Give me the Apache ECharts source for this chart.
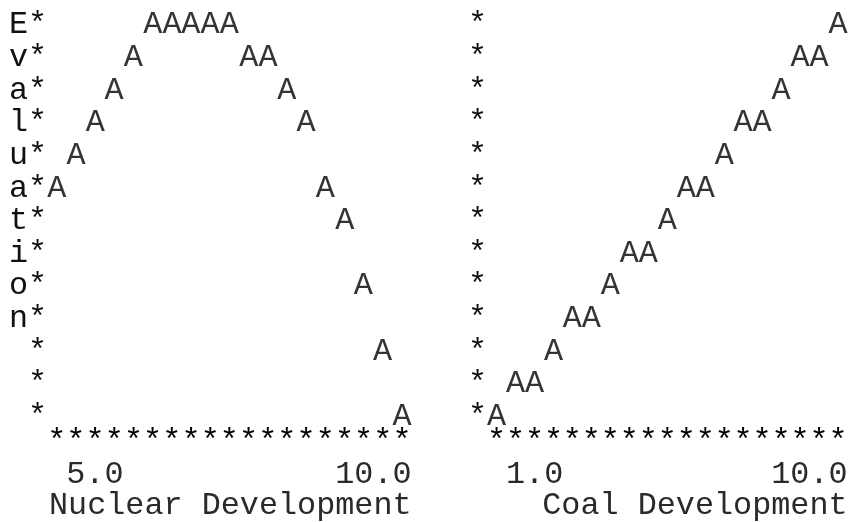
<!DOCTYPE html>
<html><head><meta charset="utf-8">
<script src="https://cdn.jsdelivr.net/npm/echarts@6/dist/echarts.min.js"></script>
<style>html,body{margin:0;padding:0;background:#fff}#c{width:849px;height:522px}</style>
</head><body><div id="c"></div>
<script>
// ---- data ----
const nuclearX    = [5.00,5.28,5.56,5.83,6.11,6.39,6.67,6.94,7.22,7.50,7.78,8.06,8.33,8.61,8.89,9.17,9.44,9.72,10.00];
const nuclearEval = [7,8,9,10,11,12,12,12,12,12,11,11,10,9,7,6,4,2,0];
const coalX       = [1.0,1.5,2.0,2.5,3.0,3.5,4.0,4.5,5.0,5.5,6.0,6.5,7.0,7.5,8.0,8.5,9.0,9.5,10.0];
const coalEval    = [0,1,1,2,3,3,4,5,5,6,7,7,8,9,9,10,11,11,12];
const evalLetters = ['E','v','a','l','u','a','t','i','o','n',' ',' ',' ']; // top row to bottom row
const nuclearTicks = [5.0, 10.0];
const coalTicks    = [1.0, 10.0];
const nuclearName  = 'Nuclear Development';
const coalName     = 'Coal Development';
const evalMin = 0, evalMax = 12;

// ---- styling ----
const FONT = 'Liberation Mono';
const FS = 31.8;
const W = FS * 0.6;            // monospace advance
const AXIS_Y = 416.5;
const hidden = {show:false};

function pointsOf(xs, ys){ return xs.map((x,i)=>[x, ys[i]]); }

function buildPanel(idx, gridLeft, gridRight, ticks, name, yLabel, xs, ys){
  const xMin = ticks[0], xMax = ticks[1];
  const starCount = xs.length;
  const starPos = Array.from({length: starCount}, (_,k)=> xMin + k*(xMax-xMin)/(starCount-1));
  const grid = {left: gridLeft, right: gridRight, top: 25, bottom: 522-AXIS_Y, outerBoundsMode:'none'};
  const xStar = {
    type:'value', gridIndex: idx, position:'bottom', offset:0, min: xMin, max: xMax,
    axisLine: hidden, axisTick: hidden, splitLine: hidden,
    axisLabel: {show:true, customValues: starPos, formatter: ()=>'*', margin: 25.5,
      verticalAlign:'middle', fontFamily: FONT, fontSize: FS, color:'#000'}
  };
  const xVal = {
    type:'value', gridIndex: idx, position:'bottom', offset:0, min: xMin, max: xMax,
    axisLine: hidden, axisTick: hidden, splitLine: hidden,
    axisLabel: {show:true, customValues: ticks, margin: 58.5, verticalAlign:'middle',
      fontFamily: FONT, fontSize: FS, color:'#2a2a2a',
      formatter: (v)=>{
        const s = v.toFixed(1).padStart(4,' ');
        return v === xMin ? '   ' + s : s + '   ';
      }},
    name: name, nameLocation:'end', nameGap: W/2, nameMoveOverlap:false,
    nameTextStyle: {fontFamily: FONT, fontSize: FS, color:'#2a2a2a', align:'right',
      verticalAlign:'top', padding:[89 - FS/2, 0, 0, 0]}
  };
  const y = {
    type:'value', gridIndex: idx, position:'left', min: evalMin, max: evalMax, interval: 1,
    axisLine: hidden, axisTick: hidden, splitLine: hidden,
    axisLabel: {show:true, margin: W/2, fontFamily: FONT, fontSize: FS, color:'#111',
      formatter: yLabel}
  };
  const series = {
    type:'scatter', xAxisIndex: idx*2+1, yAxisIndex: idx, data: pointsOf(xs, ys),
    symbolSize: 1, itemStyle:{color:'rgba(0,0,0,0)'}, silent:true,
    label:{show:true, position:'inside', formatter:'A', fontFamily: FONT, fontSize: FS, color:'#000'}
  };
  return {grid, xAxes:[xStar, xVal], y, series};
}

const left = buildPanel(0, 56.7, 849-402, nuclearTicks, nuclearName,
  (v)=> evalLetters[evalMax - v] + '*', nuclearX, nuclearEval);
const right = buildPanel(1, 496.5, 849-838, coalTicks, coalName,
  ()=> '*', coalX, coalEval);

const chart = echarts.init(document.getElementById('c'), null, {renderer:'canvas'});
chart.setOption({
  animation:false,
  backgroundColor:'#fff',
  grid:[left.grid, right.grid],
  xAxis:[...left.xAxes, ...right.xAxes],
  yAxis:[left.y, right.y],
  series:[left.series, right.series]
});
</script></body></html>
